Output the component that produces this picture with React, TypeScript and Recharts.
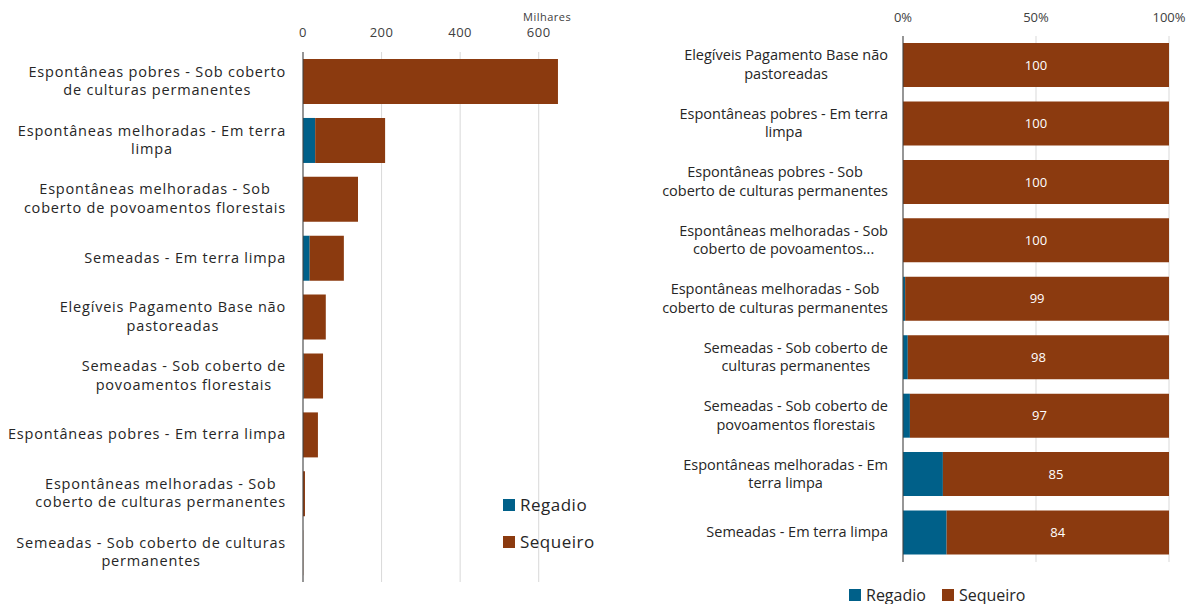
import React from "react";
import { Bar, BarChart, CartesianGrid, LabelList, XAxis, YAxis } from "recharts";

// Left chart: area in thousands (Milhares), sorted by total
const categoriesLeft = [
  "Espontâneas pobres - Sob coberto\nde culturas permanentes",
  "Espontâneas melhoradas - Em terra\nlimpa",
  "Espontâneas melhoradas - Sob\ncoberto de povoamentos florestais",
  "Semeadas - Em terra limpa",
  "Elegíveis Pagamento Base não\npastoreadas",
  "Semeadas - Sob coberto de\npovoamentos florestais",
  "Espontâneas pobres - Em terra limpa",
  "Espontâneas melhoradas - Sob\ncoberto de culturas permanentes",
  "Semeadas - Sob coberto de culturas\npermanentes",
];
const regadioLeft = [0, 31, 0, 17, 0, 1.5, 0, 0.05, 0.01];
const sequeiroLeft = [649, 178, 140, 87, 58, 49.5, 38, 5, 0.5];
const leftTicks = [0, 200, 400, 600];
const LEFT_MAX = 700;

// Right chart: share (%) of each category
const categoriesRight = [
  "Elegíveis Pagamento Base não\npastoreadas",
  "Espontâneas pobres - Em terra\nlimpa",
  "Espontâneas pobres - Sob\ncoberto de culturas permanentes",
  "Espontâneas melhoradas - Sob\ncoberto de povoamentos...",
  "Espontâneas melhoradas - Sob\ncoberto de culturas permanentes",
  "Semeadas - Sob coberto de\nculturas permanentes",
  "Semeadas - Sob coberto de\npovoamentos florestais",
  "Espontâneas melhoradas - Em\nterra limpa",
  "Semeadas - Em terra limpa",
];
const regadioPct = [0, 0, 0, 0, 0.8, 1.8, 2.6, 15, 16.4];
const sequeiroPct = [100, 100, 100, 100, 99.2, 98.2, 97.4, 85, 83.6];
const rightTicks = [0, 50, 100];

const REGADIO = "#006089";
const SEQUEIRO = "#8B3A0F";
const FONT = '"Open Sans", sans-serif';
const TEXT = "#262626";

const series = [
  { key: "regadio", name: "Regadio", color: REGADIO },
  { key: "sequeiro", name: "Sequeiro", color: SEQUEIRO },
];

const leftData = categoriesLeft.map((c, i) => ({ cat: c, regadio: regadioLeft[i], sequeiro: sequeiroLeft[i] }));
const rightData = categoriesRight.map((c, i) => ({ cat: c, regadio: regadioPct[i], sequeiro: sequeiroPct[i] }));

let ctx: CanvasRenderingContext2D | null = null;
function measure(text: string, font: string, spacing: number) {
  if (!ctx) ctx = document.createElement("canvas").getContext("2d");
  if (!ctx) return text.length * (7.5 + spacing);
  ctx.font = font;
  return ctx.measureText(text).width + text.length * spacing;
}

const CategoryTick = (props: any) => {
  const { x, y, payload, spacing = 0 } = props;
  const size = 14.5;
  const lines = String(payload.value).split("\n");
  const block = Math.max(...lines.map((l) => measure(l, `${size}px "Open Sans"`, spacing)));
  const cx = x - block / 2;
  const lh = 18.5;
  const y0 = y - 1 - ((lines.length - 1) * lh) / 2;
  return (
    <text x={cx} y={y0} textAnchor="middle" fontSize={size} fontFamily={FONT} fill={TEXT} letterSpacing={spacing}>
      {lines.map((l, i) => (
        <tspan key={i} x={cx} y={y0 + i * lh} dominantBaseline="central">
          {l}
        </tspan>
      ))}
    </text>
  );
};

const LegendBox = ({ vertical, style }: { vertical: boolean; style: React.CSSProperties }) => (
  <div
    style={{
      position: "absolute",
      display: "flex",
      flexDirection: vertical ? "column" : "row",
      gap: vertical ? 17 : 16,
      fontFamily: FONT,
      color: TEXT,
      ...style,
    }}
  >
    {series.map((s) => (
      <div key={s.key} style={{ display: "flex", alignItems: "center", lineHeight: "20px" }}>
        <span style={{ width: 12, height: 12, background: s.color, marginRight: 5, display: "inline-block" }} />
        {s.name}
      </div>
    ))}
  </div>
);

// grid only at the labelled ticks (no line at the end of the domain)
const leftVerticalGrid = ({ offset }: any) =>
  leftTicks.map((t) => offset.left + (t / LEFT_MAX) * offset.width);

export default function App() {
  return (
    <div style={{ position: "absolute", left: 0, top: 0, width: 1190, height: 604, background: "#fff" }}>
      <div style={{ position: "absolute", left: 0, top: 0, width: 620, height: 604 }}>
        <BarChart
          width={620}
          height={604}
          data={leftData}
          layout="vertical"
          margin={{ top: 22, right: 42, bottom: 22, left: 0 }}
          barCategoryGap="12%"
        >
          <CartesianGrid horizontal={false} stroke="#d9d9d9" verticalCoordinatesGenerator={leftVerticalGrid} />
          <XAxis
            type="number"
            orientation="top"
            domain={[0, LEFT_MAX]}
            ticks={leftTicks}
            height={30}
            axisLine={false}
            tickLine={false}
            tickSize={0}
            tickMargin={15}
            tick={{ fill: "#404040", fontSize: 13, fontFamily: FONT, letterSpacing: 0.5 }}
          />
          <YAxis
            type="category"
            dataKey="cat"
            width={303}
            tickLine={false}
            tickSize={0}
            tickMargin={17}
            axisLine={{ stroke: "#404040" }}
            tick={<CategoryTick spacing={0.8} />}
            interval={0}
          />
          {series.map((s) => (
            <Bar key={s.key} dataKey={s.key} name={s.name} stackId="a" fill={s.color} isAnimationActive={false} />
          ))}
        </BarChart>
        <div
          style={{
            position: "absolute",
            left: 523,
            top: 9,
            fontFamily: FONT,
            fontSize: 11,
            letterSpacing: 0.5,
            color: "#404040",
          }}
        >
          Milhares
        </div>
        <LegendBox vertical style={{ left: 503, top: 495, fontSize: 17, letterSpacing: 0.5 }} />
      </div>
      <div style={{ position: "absolute", left: 620, top: 0, width: 570, height: 604 }}>
        <BarChart
          width={570}
          height={604}
          data={rightData}
          layout="vertical"
          margin={{ top: 10, right: 21, bottom: 42, left: 0 }}
          barCategoryGap="12%"
        >
          <CartesianGrid horizontal={false} stroke="#d9d9d9" />
          <XAxis
            type="number"
            orientation="top"
            domain={[0, 100]}
            ticks={rightTicks}
            height={26}
            axisLine={false}
            tickLine={false}
            tickSize={0}
            tickMargin={14}
            tickFormatter={(v: number) => `${v}%`}
            tick={{ fill: "#404040", fontSize: 13, fontFamily: FONT }}
          />
          <YAxis
            type="category"
            dataKey="cat"
            width={283}
            tickLine={false}
            tickSize={0}
            tickMargin={15}
            axisLine={{ stroke: "#404040" }}
            tick={<CategoryTick spacing={0} />}
            interval={0}
          />
          <Bar dataKey="regadio" name="Regadio" stackId="a" fill={REGADIO} isAnimationActive={false} />
          <Bar dataKey="sequeiro" name="Sequeiro" stackId="a" fill={SEQUEIRO} isAnimationActive={false}>
            <LabelList
              dataKey="sequeiro"
              position="center"
              formatter={(v: any) => Math.round(Number(v))}
              fill="#ffffff"
              fontSize={13}
              fontFamily={FONT}
            />
          </Bar>
        </BarChart>
        <LegendBox vertical={false} style={{ left: 229, top: 585, fontSize: 16 }} />
      </div>
    </div>
  );
}
